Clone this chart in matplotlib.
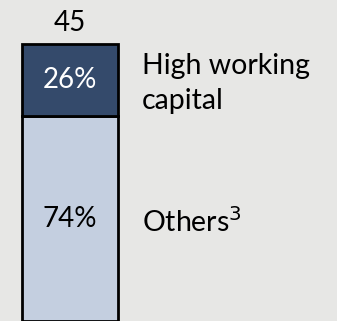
import matplotlib.pyplot as plt

# share of the 45 cases by segment
total = 45
segments = ["Others$^3$", "High working\ncapital"]
shares = [74, 26]
colors = ["#c4cfe0", "#344a6b"]
text_colors = ["black", "white"]

plt.rcParams['font.family'] = ['Lato', 'DejaVu Sans']

fig = plt.figure(figsize=(3.37, 3.21), dpi=100)
fig.patch.set_facecolor("#e7e7e5")
ax = fig.add_axes([0, 0, 1, 1])
ax.set_facecolor("#e7e7e5")

bottom = 0
for name, val, col, tc in zip(segments, shares, colors, text_colors):
    ax.bar(0, val, bottom=bottom, width=1, color=col, edgecolor="black",
           linewidth=2)
    mid = bottom + val / 2
    ax.text(0, mid, f"{val}%", ha="center", va="center", fontsize=20,
            color=tc)
    # label block sits a little below the segment middle
    ax.text(0.75, mid - 1.2, name, ha="left", va="center", fontsize=20.5,
            color="black", linespacing=1.4)
    bottom += val

ax.text(0, bottom + 7.5, str(total), ha="center", va="center", fontsize=20,
        color="black")

ax.set_xlim(-70 / 96, (337 - 70) / 96)
ax.set_ylim(0, 100 * 321 / 277)
ax.axis("off")

fig.savefig("out.png", dpi=100, facecolor=fig.get_facecolor())
